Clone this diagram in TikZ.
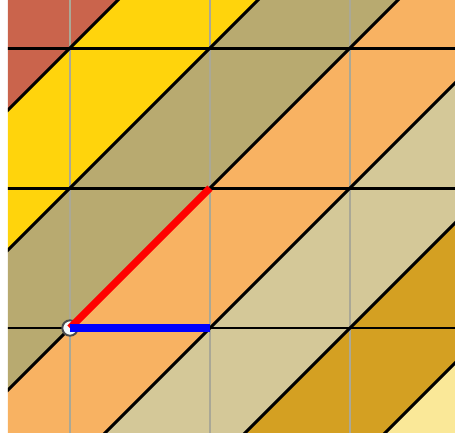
\documentclass[tikz,border=0pt]{standalone}
\usepackage{tikz}
\definecolor{brick}{RGB}{202,100,76}
\definecolor{gold}{RGB}{255,212,12}
\definecolor{olive}{RGB}{184,170,112}
\definecolor{apricot}{RGB}{248,178,98}
\definecolor{khaki}{RGB}{212,200,152}
\definecolor{mustard}{RGB}{212,160,34}
\definecolor{cream}{RGB}{250,232,152}
\definecolor{gridgray}{RGB}{170,168,150}

\begin{document}
\begin{tikzpicture}[bond/.style={line width=0.6pt,black},vec/.style={line width=1.5pt}]
\useasboundingbox (-0.5,-0.743) rectangle (2.75,2.343);
\begin{scope}
\clip (-0.443,-0.743) rectangle (2.75,2.343);
\foreach \k/\c in {-5/brick,-4/brick,-3/brick,-2/gold,-1/olive,0/apricot,1/khaki,2/mustard,3/cream,4/cream}
  \fill[\c] (\k-3,-3) -- (\k-2,-3) -- (\k+5,4) -- (\k+4,4) -- cycle;
\foreach \x in {0,1,2}
  \draw[gridgray,line width=0.3pt] (\x,-1) -- (\x,3);
\foreach \y in {-1,0,1,2}
  \draw[bond] (-1,\y) -- (3,\y);
\foreach \k in {-4,...,4}
  \draw[bond] (\k-3,-3) -- (\k+4,4);
\end{scope}
\coordinate (O) at (0,0);
\coordinate (A) at (1,0);
\coordinate (B) at (1,1);
\draw[fill=cyan!4,draw=black!70,line width=0.4pt] (O) circle (0.055);
\draw[vec,red] (O) -- (B);
\draw[vec,blue] (O) -- (A);
\end{tikzpicture}
\end{document}
